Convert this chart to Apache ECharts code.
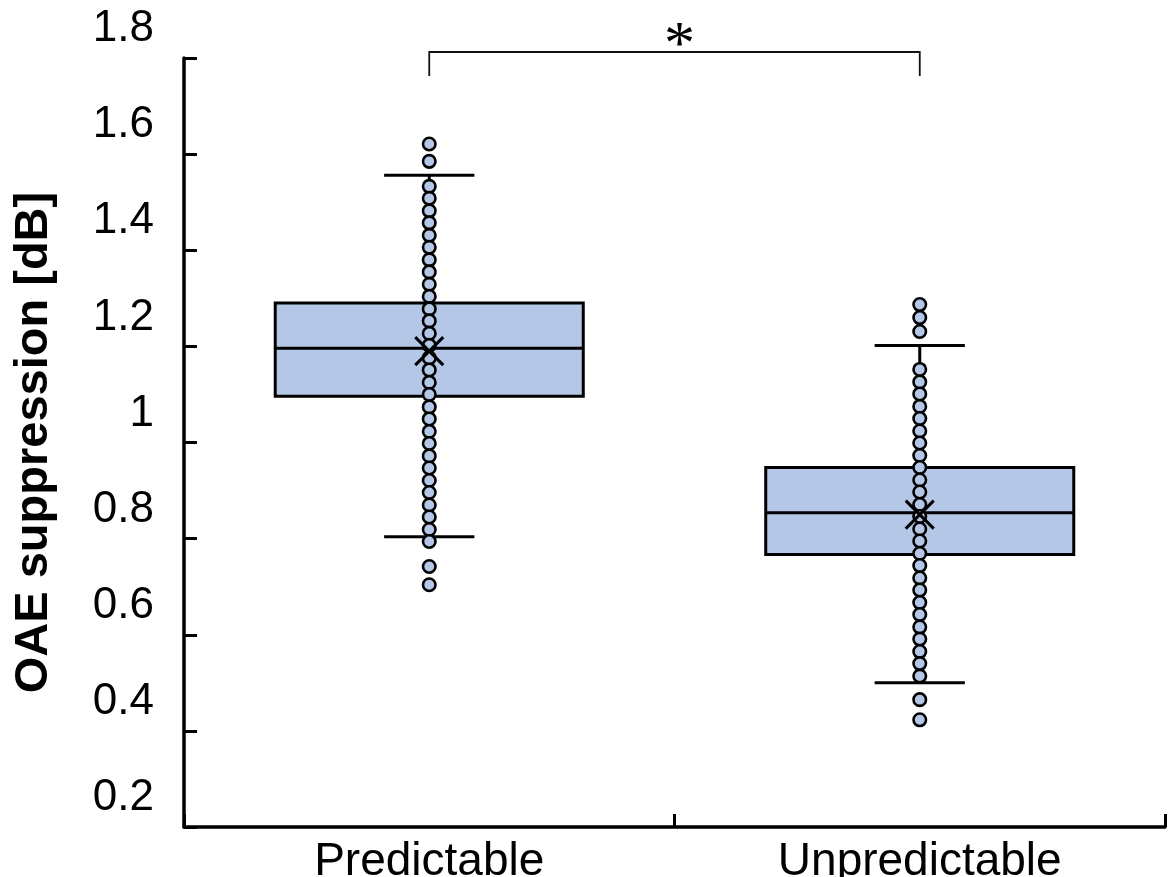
<!DOCTYPE html>
<html>
<head>
<meta charset="utf-8">
<script src="https://cdn.jsdelivr.net/npm/echarts@6/dist/echarts.min.js"></script>
<style>
html,body{margin:0;padding:0;background:#fff;}
#chart{width:1172px;height:877px;}
</style>
</head>
<body>
<div id="chart"></div>
<script>
// ---- data ----
const categories = ['Predictable', 'Unpredictable'];
const whiskerLow  = [0.804, 0.500];
const q1          = [1.096, 0.767];
const median      = [1.196, 0.854];
const q3          = [1.290, 0.948];
const whiskerHigh = [1.556, 1.202];
const means       = [1.190, 0.850];

const predictablePoints = [1.621, 1.585,
  1.533, 1.508, 1.482, 1.457, 1.431, 1.406, 1.380, 1.355, 1.329, 1.304,
  1.278, 1.253, 1.227, 1.202, 1.176, 1.151, 1.125, 1.100, 1.074, 1.049,
  1.023, 0.998, 0.972, 0.947, 0.921, 0.896, 0.870, 0.845, 0.819, 0.794,
  0.742, 0.704];
const unpredictablePoints = [1.287, 1.260, 1.231,
  1.152, 1.126, 1.101, 1.075, 1.050, 1.024, 0.999, 0.973, 0.948, 0.922,
  0.897, 0.871, 0.846, 0.820, 0.795, 0.769, 0.744, 0.718, 0.693, 0.667,
  0.642, 0.616, 0.591, 0.565, 0.540, 0.514,
  0.465, 0.423];

const yMin = 0.2, yMax = 1.8, yStep = 0.2;
const yTitle = 'OAE suppression [dB]';
const sigPair = [0, 1];
const sigLabel = '*';

// ---- chart ----
const FONT = '"Liberation Sans", Arial, sans-serif';
const BOX_FILL = '#b4c7e7';
const chart = echarts.init(document.getElementById('chart'), null, {renderer: 'canvas'});

const boxData = categories.map((c, i) => [i, whiskerLow[i], q1[i], median[i], q3[i], whiskerHigh[i]]);
const pointData = [];
predictablePoints.forEach(v => pointData.push([0, v]));
unpredictablePoints.forEach(v => pointData.push([1, v]));
const meanData = means.map((m, i) => [i, m]);

const option = {
  animation: false,
  backgroundColor: '#fff',
  grid: {left: 184, right: 7, top: 58, bottom: 50, containLabel: false, outerBoundsMode: 'none'},
  xAxis: {
    type: 'category',
    data: categories,
    boundaryGap: true,
    axisLine: {show: true, lineStyle: {color: '#000', width: 3.5}},
    axisTick: {show: true, inside: true, length: 13, alignWithLabel: false, lineStyle: {color: '#000', width: 3}},
    axisLabel: {color: '#000', fontSize: 46, fontFamily: FONT, margin: 12},
    splitLine: {show: false}
  },
  yAxis: {
    type: 'value',
    min: yMin, max: yMax, interval: yStep,
    name: yTitle,
    nameLocation: 'middle',
    nameGap: 126,
    nameTextStyle: {color: '#000', fontSize: 47, fontWeight: 'bold', fontFamily: FONT},
    axisLine: {show: true, lineStyle: {color: '#000', width: 3.5}},
    axisTick: {show: true, inside: true, length: 13, lineStyle: {color: '#000', width: 3}},
    axisLabel: {color: '#000', fontSize: 44, fontFamily: FONT, margin: 30,
      verticalAlign: 'bottom', lineHeight: 58,
      formatter: v => String(Math.round(v * 10) / 10)},
    splitLine: {show: false}
  },
  series: [
    {
      type: 'custom',
      name: 'box',
      data: boxData,
      encode: {x: 0, y: [1, 2, 3, 4, 5]},
      z: 2,
      renderItem: function (params, api) {
        const i = api.value(0);
        const band = api.size([1, 0])[0];
        const boxW = band * 0.628;
        const capW = band * 0.184;
        const pLow = api.coord([i, api.value(1)]);
        const pQ1 = api.coord([i, api.value(2)]);
        const pMed = api.coord([i, api.value(3)]);
        const pQ3 = api.coord([i, api.value(4)]);
        const pHigh = api.coord([i, api.value(5)]);
        const cx = pQ1[0];
        const ls = {stroke: '#000', lineWidth: 3};
        return {
          type: 'group',
          children: [
            {type: 'line', shape: {x1: cx, y1: pQ3[1], x2: cx, y2: pHigh[1]}, style: ls},
            {type: 'line', shape: {x1: cx, y1: pQ1[1], x2: cx, y2: pLow[1]}, style: ls},
            {type: 'line', shape: {x1: cx - capW / 2, y1: pHigh[1], x2: cx + capW / 2, y2: pHigh[1]}, style: ls},
            {type: 'line', shape: {x1: cx - capW / 2, y1: pLow[1], x2: cx + capW / 2, y2: pLow[1]}, style: ls},
            {type: 'rect', shape: {x: cx - boxW / 2, y: pQ3[1], width: boxW, height: pQ1[1] - pQ3[1]},
              style: {fill: BOX_FILL, stroke: '#000', lineWidth: 3}},
            {type: 'line', shape: {x1: cx - boxW / 2, y1: pMed[1], x2: cx + boxW / 2, y2: pMed[1]}, style: ls}
          ]
        };
      }
    },
    {
      type: 'scatter',
      name: 'points',
      data: pointData,
      z: 3,
      symbol: 'circle',
      symbolSize: 12.5,
      itemStyle: {color: BOX_FILL, borderColor: '#000', borderWidth: 2.6, opacity: 1}
    },
    {
      type: 'custom',
      name: 'mean',
      data: meanData,
      encode: {x: 0, y: 1},
      z: 4,
      renderItem: function (params, api) {
        const p = api.coord([api.value(0), api.value(1)]);
        const h = 14;
        const ls = {stroke: '#000', lineWidth: 3};
        return {
          type: 'group',
          children: [
            {type: 'line', shape: {x1: p[0] - h, y1: p[1] - h, x2: p[0] + h, y2: p[1] + h}, style: ls},
            {type: 'line', shape: {x1: p[0] - h, y1: p[1] + h, x2: p[0] + h, y2: p[1] - h}, style: ls}
          ]
        };
      }
    },
    {
      type: 'custom',
      name: 'significance',
      data: [[sigPair[0], sigPair[1]]],
      encode: {x: [0, 1]},
      clip: false,
      z: 5,
      renderItem: function (params, api) {
        const a = api.coord([api.value(0), yMax]);
        const b = api.coord([api.value(1), yMax]);
        const yTop = a[1] - 6;
        const yLeg = a[1] + 18;
        const ls = {stroke: '#111', lineWidth: 1.8};
        return {
          type: 'group',
          children: [
            {type: 'polyline', shape: {points: [[a[0], yLeg], [a[0], yTop], [b[0], yTop], [b[0], yLeg]]}, style: Object.assign({fill: 'none'}, ls)},
            {type: 'text', style: {text: sigLabel, x: (a[0] + b[0]) / 2 + 5, y: yTop + 26, textAlign: 'center', textVerticalAlign: 'bottom',
              fontSize: 62, fontFamily: '"Liberation Serif", "Times New Roman", serif', fill: '#000'}}
          ]
        };
      }
    }
  ]
};
chart.setOption(option);
</script>
</body>
</html>
